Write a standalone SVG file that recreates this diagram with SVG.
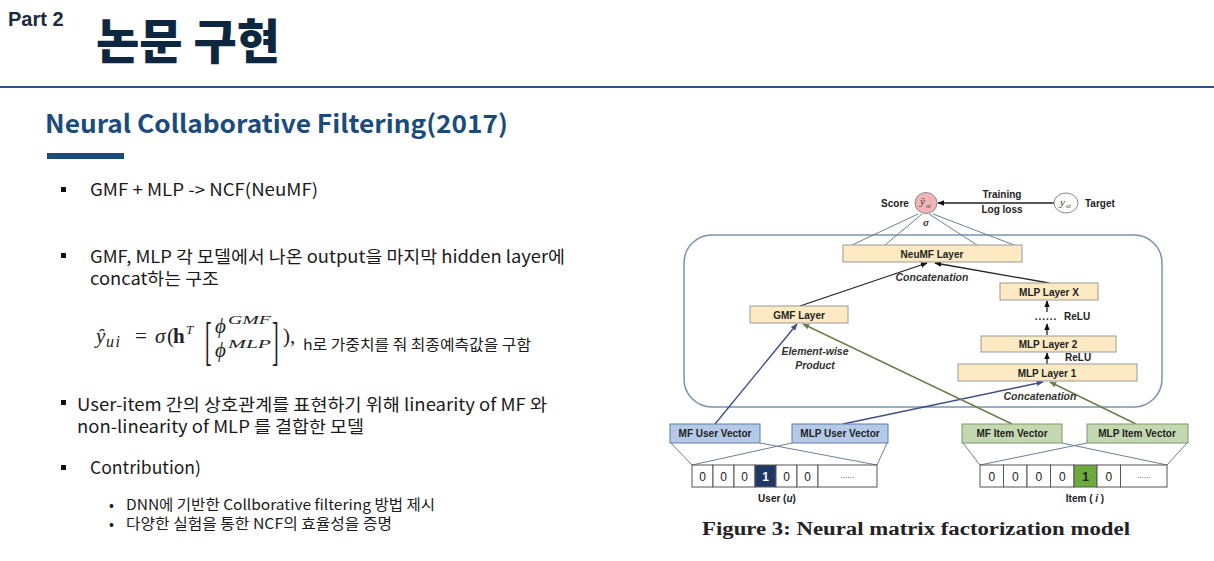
<svg xmlns="http://www.w3.org/2000/svg" width="1214" height="561" viewBox="0 0 1214 561">
<defs>
<style>
.body{font-family:"Noto Sans CJK KR","Noto Sans",sans-serif;font-size:17px;fill:#1a1a1a;}
.sub{font-family:"Noto Sans CJK KR","Noto Sans",sans-serif;font-size:14.5px;fill:#1a1a1a;}
.fl{font-family:"Liberation Sans",Arial,sans-serif;font-weight:bold;font-size:10px;fill:#222;text-anchor:middle;}
.fls{font-family:"Liberation Sans",Arial,sans-serif;font-weight:bold;font-size:10px;fill:#222;text-anchor:start;}
.fi{font-family:"Liberation Sans",Arial,sans-serif;font-weight:bold;font-style:italic;font-size:10.5px;fill:#333;text-anchor:middle;}
.layer{fill:#fdeac3;stroke:#999;stroke-width:1;}
.uv{fill:#b3c9e6;stroke:#5f7fa5;stroke-width:1;}
.iv{fill:#c3d8b1;stroke:#7d9a66;stroke-width:1;}
.cell{fill:#fff;stroke:#555;stroke-width:1;}
.ct{font-family:"Liberation Sans",Arial,sans-serif;font-size:12px;fill:#222;text-anchor:middle;}
.math{font-family:"Liberation Serif","DejaVu Serif",serif;fill:#222;}
.thin{stroke:#6d7f96;stroke-width:1;fill:none;}
.blk{stroke:#222;stroke-width:1.3;fill:none;}
.nav{stroke:#3e4f86;stroke-width:1.4;fill:none;}
.grn{stroke:#66804a;stroke-width:1.4;fill:none;}
.bul{fill:#111;}
</style>
<marker id="ak" viewBox="0 0 10 10" refX="9" refY="5" markerWidth="7" markerHeight="7" markerUnits="userSpaceOnUse" orient="auto"><path d="M0,1 L10,5 L0,9 z" fill="#111"/></marker>
<marker id="an" viewBox="0 0 10 10" refX="9" refY="5" markerWidth="7" markerHeight="7" markerUnits="userSpaceOnUse" orient="auto"><path d="M0,1 L10,5 L0,9 z" fill="#3e4f86"/></marker>
<marker id="ag" viewBox="0 0 10 10" refX="9" refY="5" markerWidth="7" markerHeight="7" markerUnits="userSpaceOnUse" orient="auto"><path d="M0,1 L10,5 L0,9 z" fill="#66804a"/></marker>
</defs>
<rect width="1214" height="561" fill="#fff"/>

<g id="header">
<text x="8" y="26" font-family="Liberation Sans,Arial,sans-serif" font-weight="bold" font-size="20" fill="#1c2b3c">Part 2</text>
<text x="96" y="59" font-family="Noto Sans CJK KR,sans-serif" font-weight="900" font-size="48" fill="#0e2740" textLength="184" lengthAdjust="spacingAndGlyphs">논문 구현</text>
<rect x="0" y="86" width="1214" height="2" fill="#2a5583"/>
</g>

<g id="heading">
<text x="45" y="133" font-family="Noto Sans CJK KR,Noto Sans,sans-serif" font-weight="bold" font-size="25" fill="#1a4b7c" textLength="463" lengthAdjust="spacingAndGlyphs">Neural Collaborative Filtering(2017)</text>
<rect x="47" y="153" width="77" height="6" fill="#1a4b7c"/>
</g>

<g id="bullets">
<rect class="bul" x="61" y="187" width="5" height="5"/>
<text class="body" x="90" y="196" textLength="228" lengthAdjust="spacingAndGlyphs">GMF + MLP -&gt; NCF(NeuMF)</text>

<rect class="bul" x="61" y="253" width="5" height="5"/>
<text class="body"><tspan x="90" y="263" textLength="475" lengthAdjust="spacingAndGlyphs">GMF, MLP 각 모델에서 나온 output을 마지막 hidden layer에</tspan><tspan x="90" y="285" textLength="129" lengthAdjust="spacingAndGlyphs">concat하는 구조</tspan></text>

<g id="formula" class="math">
<text x="96" y="343" font-size="21" font-style="italic">ŷ</text>
<text x="106" y="347" font-size="16" font-style="italic" letter-spacing="1.5">ui</text>
<text x="135" y="343" font-size="21">=</text>
<text x="155" y="343" font-size="21" font-style="italic">σ</text>
<text x="167" y="343" font-size="21">(</text>
<text x="173" y="343" font-size="21" font-weight="bold">h</text>
<text x="186" y="334" font-size="13" font-style="italic">T</text>
<text transform="translate(205,359) scale(1,2.6)" font-size="20">[</text>
<text x="215" y="333" font-size="21" font-style="italic">ϕ</text>
<text x="228" y="324" font-size="13" font-style="italic" textLength="43" lengthAdjust="spacingAndGlyphs">GMF</text>
<text x="215" y="357" font-size="21" font-style="italic">ϕ</text>
<text x="228" y="348" font-size="13" font-style="italic" textLength="43" lengthAdjust="spacingAndGlyphs">MLP</text>
<text transform="translate(272,359) scale(1,2.6)" font-size="20">]</text>
<text x="283" y="343" font-size="21">),</text>
</g>
<text class="sub" x="303" y="350" textLength="228" lengthAdjust="spacingAndGlyphs">h로 가중치를 줘 최종예측값을 구함</text>

<rect class="bul" x="61" y="400" width="5" height="5"/>
<text class="body"><tspan x="77" y="411" textLength="470" lengthAdjust="spacingAndGlyphs">User-item 간의 상호관계를 표현하기 위해 linearity of MF 와</tspan><tspan x="77" y="433" textLength="287" lengthAdjust="spacingAndGlyphs">non-linearity of MLP 를 결합한 모델</tspan></text>

<rect class="bul" x="61" y="465" width="5" height="5"/>
<text class="body" x="90" y="474" textLength="111" lengthAdjust="spacingAndGlyphs">Contribution)</text>

<text class="sub" x="109" y="510">•</text>
<text class="sub" x="126" y="510" textLength="309" lengthAdjust="spacingAndGlyphs">DNN에 기반한 Collborative filtering 방법 제시</text>
<text class="sub" x="109" y="529">•</text>
<text class="sub" x="126" y="529" textLength="266" lengthAdjust="spacingAndGlyphs">다양한 실험을 통한 NCF의 효율성을 증명</text>
</g>

<g id="figure">
<rect id="neumf-box" x="684" y="235" width="478" height="172" rx="28" fill="none" stroke="#7b92ad" stroke-width="1.5"/>

<g id="connectors">
<line class="blk" x1="1054" y1="203" x2="938" y2="203" marker-end="url(#ak)"/>
<line class="thin" x1="918" y1="214" x2="852" y2="245"/>
<line class="thin" x1="922" y1="214" x2="885" y2="245"/>
<line class="thin" x1="929" y1="214" x2="977" y2="245"/>
<line class="thin" x1="933" y1="214" x2="1014" y2="245"/>
<line class="blk" x1="800" y1="306" x2="927" y2="263" marker-end="url(#ak)"/>
<line class="blk" x1="1049" y1="283" x2="935" y2="263" marker-end="url(#ak)"/>
<line class="blk" x1="1047" y1="312" x2="1047" y2="301" marker-end="url(#ak)"/>
<line class="blk" x1="1047" y1="335" x2="1047" y2="324" marker-end="url(#ak)"/>
<line class="blk" x1="1047" y1="364" x2="1047" y2="353" marker-end="url(#ak)"/>
<line class="nav" x1="715" y1="424" x2="797" y2="324" marker-end="url(#an)"/>
<line class="nav" x1="843" y1="424" x2="1043" y2="382" marker-end="url(#an)"/>
<line class="grn" x1="1012" y1="424" x2="803" y2="324" marker-end="url(#ag)"/>
<line class="grn" x1="1136" y1="424" x2="1050" y2="382" marker-end="url(#ag)"/>
<line class="thin" x1="671" y1="443" x2="692" y2="465"/>
<line class="thin" x1="760" y1="443" x2="877" y2="465"/>
<line class="thin" x1="792" y1="443" x2="692" y2="465"/>
<line class="thin" x1="887" y1="443" x2="877" y2="465"/>
<line class="thin" x1="963" y1="443" x2="980" y2="465"/>
<line class="thin" x1="1062" y1="443" x2="1167" y2="465"/>
<line class="thin" x1="1087" y1="443" x2="980" y2="465"/>
<line class="thin" x1="1187" y1="443" x2="1167" y2="465"/>
</g>

<g id="score">
<text class="fl" x="895" y="207">Score</text>
<ellipse cx="926" cy="203" rx="11" ry="10.5" fill="#f2b5b5" stroke="#8a8a8a"/>
<text x="920" y="205" font-family="Liberation Serif,serif" font-style="italic" font-size="11" fill="#333">ŷ</text>
<text x="926" y="208" font-family="Liberation Serif,serif" font-style="italic" font-size="6" fill="#333">ui</text>
<text x="926" y="226" font-family="Liberation Serif,serif" font-style="italic" font-weight="bold" font-size="11" fill="#333" text-anchor="middle">σ</text>
</g>
<g id="loss-label">
<text class="fl" x="1002" y="198">Training</text>
<text class="fl" x="1002" y="213">Log loss</text>
</g>
<g id="target">
<ellipse cx="1066" cy="203" rx="12" ry="10" fill="#fff" stroke="#888"/>
<text x="1060" y="206" font-family="Liberation Serif,serif" font-style="italic" font-size="11" fill="#333">y</text>
<text x="1066" y="208" font-family="Liberation Serif,serif" font-style="italic" font-size="6" fill="#333">ui</text>
<text class="fls" x="1085" y="207">Target</text>
</g>

<g id="neumf-layer">
<rect class="layer" x="843" y="245" width="179" height="17"/>
<text class="fl" x="932" y="257.5">NeuMF Layer</text>
</g>
<text class="fi" x="932" y="281">Concatenation</text>

<g id="gmf-layer">
<rect class="layer" x="750" y="306" width="98" height="17"/>
<text class="fl" x="799" y="318.5">GMF Layer</text>
</g>
<text class="fi" x="815" y="355">Element-wise</text>
<text class="fi" x="815" y="369">Product</text>

<g id="mlp-layer-x">
<rect class="layer" x="1000" y="283" width="98" height="17"/>
<text class="fl" x="1049" y="295.5">MLP Layer X</text>
</g>
<text class="fl" x="1046" y="320" style="letter-spacing:1px">......</text>
<text class="fls" x="1064" y="320">ReLU</text>
<g id="mlp-layer-2">
<rect class="layer" x="981" y="336" width="135" height="16"/>
<text class="fl" x="1048" y="348">MLP Layer 2</text>
</g>
<text class="fls" x="1065" y="361">ReLU</text>
<g id="mlp-layer-1">
<rect class="layer" x="958" y="364" width="179" height="17"/>
<text class="fl" x="1047" y="376.5">MLP Layer 1</text>
</g>
<text class="fi" x="1040" y="400">Concatenation</text>

<g id="mf-user-vector">
<rect class="uv" x="670" y="424" width="90" height="19"/>
<text class="fl" x="715" y="437">MF User Vector</text>
</g>
<g id="mlp-user-vector">
<rect class="uv" x="792" y="424" width="96" height="19"/>
<text class="fl" x="840" y="437">MLP User Vector</text>
</g>
<g id="mf-item-vector">
<rect class="iv" x="962" y="424" width="100" height="19"/>
<text class="fl" x="1012" y="437">MF Item Vector</text>
</g>
<g id="mlp-item-vector">
<rect class="iv" x="1087" y="424" width="101" height="19"/>
<text class="fl" x="1137" y="437">MLP Item Vector</text>
</g>

<g id="user-onehot">
<rect class="cell" x="692" y="465" width="21" height="22"/>
<rect class="cell" x="713" y="465" width="21" height="22"/>
<rect class="cell" x="734" y="465" width="21" height="22"/>
<rect x="755" y="465" width="21" height="22" fill="#1f3864" stroke="#555"/>
<rect class="cell" x="776" y="465" width="21" height="22"/>
<rect class="cell" x="797" y="465" width="21" height="22"/>
<rect class="cell" x="818" y="465" width="59" height="22"/>
<text class="ct" x="702.5" y="480.5">0</text>
<text class="ct" x="723.5" y="480.5">0</text>
<text class="ct" x="744.5" y="480.5">0</text>
<text class="ct" x="765.5" y="480.5" font-weight="bold" style="fill:#fff">1</text>
<text class="ct" x="786.5" y="480.5">0</text>
<text class="ct" x="807.5" y="480.5">0</text>
<text class="ct" x="847.5" y="478" style="font-size:8px">......</text>
<text class="fl" x="777" y="502">User (<tspan font-style="italic">u</tspan>)</text>
</g>
<g id="item-onehot">
<rect class="cell" x="980" y="465" width="23.5" height="22"/>
<rect class="cell" x="1003.5" y="465" width="23.5" height="22"/>
<rect class="cell" x="1027" y="465" width="23.5" height="22"/>
<rect class="cell" x="1050.5" y="465" width="23.5" height="22"/>
<rect x="1074" y="465" width="23" height="22" fill="#6aab3c" stroke="#555"/>
<rect class="cell" x="1097" y="465" width="23.5" height="22"/>
<rect class="cell" x="1120.5" y="465" width="46.5" height="22"/>
<text class="ct" x="991.75" y="480.5">0</text>
<text class="ct" x="1015.25" y="480.5">0</text>
<text class="ct" x="1038.75" y="480.5">0</text>
<text class="ct" x="1062.25" y="480.5">0</text>
<text class="ct" x="1085.5" y="480.5" font-weight="bold">1</text>
<text class="ct" x="1108.75" y="480.5">0</text>
<text class="ct" x="1143.75" y="478" style="font-size:8px">......</text>
<text class="fl" x="1085" y="502">Item ( <tspan font-style="italic">i</tspan> )</text>
</g>

<text x="702" y="535" font-family="Liberation Serif,DejaVu Serif,serif" font-weight="bold" font-size="18.5" fill="#222" textLength="428" lengthAdjust="spacingAndGlyphs">Figure 3: Neural matrix factorization model</text>
</g>
</svg>
